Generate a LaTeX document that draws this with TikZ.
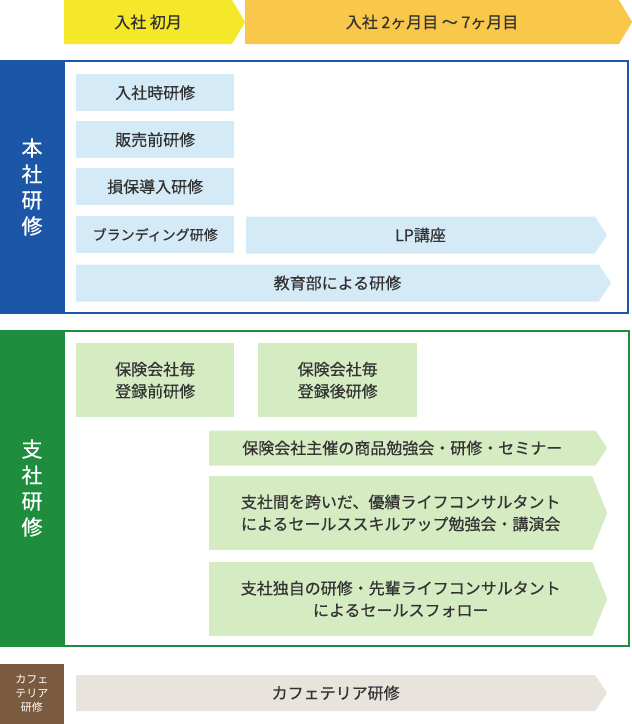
\documentclass[tikz,border=0pt]{standalone}
\usepackage{fontspec}
\setmainfont{Noto Sans CJK JP}[BoldFont=Noto Sans CJK JP, BoldFeatures={FakeBold=0.6}]
\usetikzlibrary{shapes.symbols}
\definecolor{honsha}{HTML}{1B57A6}
\definecolor{shisha}{HTML}{1E8E3E}
\definecolor{cafe}{HTML}{7B5B3F}
\definecolor{lblue}{HTML}{D5EAF7}
\definecolor{lgreen}{HTML}{D5EBC2}
\definecolor{lbeige}{HTML}{E8E3DD}
\definecolor{myyellow}{HTML}{F5E82A}
\definecolor{myorange}{HTML}{F9C84A}
\definecolor{ink}{HTML}{333333}
\tikzset{x=1pt, y=-1pt,
         every node/.style={font=\fontsize{16}{22}\selectfont\bfseries, text=ink, align=center},
         sidelabel/.style={text=white, font=\fontsize{21}{26}\selectfont\bfseries},
         box/.style={fill=#1, inner sep=0, anchor=north west},
         arr/.style={signal, signal to=east, signal pointer angle=112, fill=#1, inner sep=0, anchor=west},
         tall/.style={signal pointer angle=136},
         }
\begin{document}
\begin{tikzpicture}
    \useasboundingbox (0,0) rectangle (632,724);
    % top
    \node[arr=myyellow, signal pointer angle=118, minimum width=181, minimum height=44] (m1) at (64,22) {入社 初月};
    \node[arr=myorange, signal pointer angle=118, minimum width=387, minimum height=44] (m2) at (245,22) {入社 2ヶ月目 〜 7ヶ月目};
    % honsha
    \draw[honsha, line width=1.5] (64,61) rectangle (628,313);
    \fill[honsha] (0,60) rectangle (64,314);
    \node[sidelabel] (h) at (32,187) {本\\社\\研\\修};
    \node[box=lblue, minimum width=158, minimum height=37] (h1) at (76,74) {入社時研修};
    \node[box=lblue, minimum width=158, minimum height=37] (h2) at (76,121) {販売前研修};
    \node[box=lblue, minimum width=158, minimum height=37] (h3) at (76,168) {損保導入研修};
    \node[box=lblue, minimum width=158, minimum height=37, font=\fontsize{14}{18}\selectfont\bfseries] (h4) at (76,216) {ブランディング研修};
    \node[arr=lblue, minimum width=361, minimum height=37] (h5) at (246,235) {LP講座};
    \node[arr=lblue, minimum width=535, minimum height=37] (h6) at (76,283) {教育部による研修};
    % shisha
    \draw[shisha, line width=1.5] (64,331) rectangle (629,646);
    \fill[shisha] (0,330) rectangle (64,647);
    \node[sidelabel] (s) at (32,488) {支\\社\\研\\修};
    \node[box=lgreen, minimum width=158, minimum height=74] (s1) at (76,343) {保険会社毎\\登録前研修};
    \node[box=lgreen, minimum width=159, minimum height=74] (s2) at (258,343) {保険会社毎\\登録後研修};
    \node[arr=lgreen, minimum width=398, minimum height=35] (s3) at (209,448) {保険会社主催の商品勉強会・研修・セミナー};
    \node[arr=lgreen, tall, minimum width=398, minimum height=74] (s4) at (209,513) {支社間を跨いだ、優績ライフコンサルタント\\によるセールススキルアップ勉強会・講演会};
    \node[arr=lgreen, tall, minimum width=398, minimum height=74] (s5) at (209,599) {支社独自の研修・先輩ライフコンサルタント\\によるセールスフォロー};
    % cafeteria
    \fill[cafe] (0,664) rectangle (64,724);
    \node[sidelabel, font=\fontsize{11}{14}\selectfont] (c) at (32,694) {カフェ\\テリア\\研修};
    \node[arr=lbeige, minimum width=531, minimum height=36] (c1) at (76,693) {カフェテリア研修};
\end{tikzpicture}
\end{document}
